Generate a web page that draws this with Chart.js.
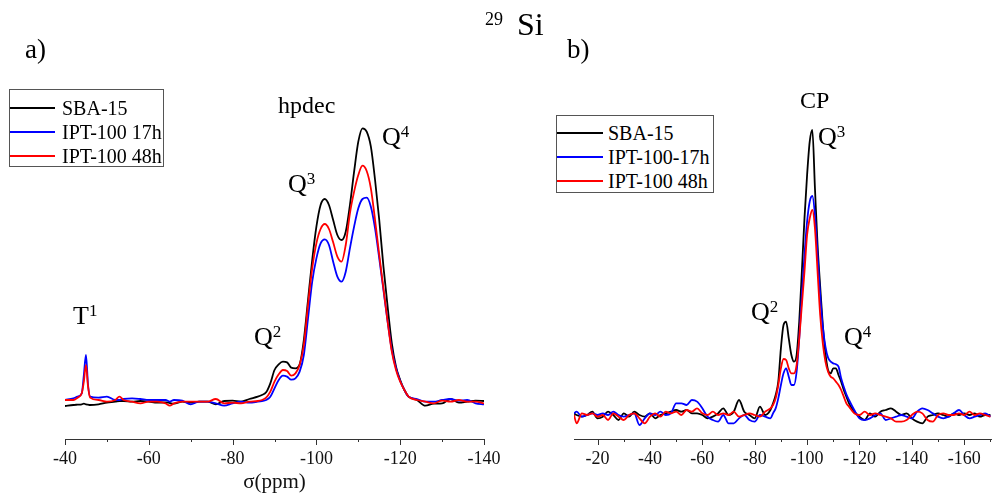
<!DOCTYPE html>
<html>
<head>
<meta charset="utf-8">
<script src="https://cdn.jsdelivr.net/npm/chart.js@4.4.0/dist/chart.umd.min.js"></script>
<style>
  body { margin: 0; background: #fff; }
  #wrap { position: relative; width: 992px; height: 499px; overflow: hidden; font-family: 'Liberation Serif', 'Times New Roman', serif; color: #000; }
  canvas { position: absolute; top: 0; }
  .t { position: absolute; line-height: 1; white-space: nowrap; }
  .q { font-size: 26px; }
  .sup { font-size: 17px; vertical-align: 8px; }
  .box { position: absolute; box-sizing: border-box; border: 1px solid #555; background: #fff; }
  .row { position: absolute; font-size: 20px; line-height: 1; white-space: nowrap; }
  .ln { position: absolute; height: 0; border-top: 2px solid; }
</style>
</head>
<body>
<div id="wrap">
  <canvas id="chartA" width="500" height="499" style="left:0"></canvas>
  <canvas id="chartB" width="492" height="499" style="left:500px"></canvas>

  <div class="t" style="left:485px;top:10px;font-size:18px">29</div>
  <div class="t" style="left:517px;top:8px;font-size:32px">Si</div>
  <div class="t" style="left:25px;top:36px;font-size:27px">a)</div>
  <div class="t" style="left:567px;top:36px;font-size:27px">b)</div>

  <div class="t" style="left:278px;top:93px;font-size:24px">hpdec</div>
  <div class="t q" style="left:73px;top:302px">T<span class="sup">1</span></div>
  <div class="t q" style="left:254px;top:323px">Q<span class="sup">2</span></div>
  <div class="t q" style="left:288px;top:170px">Q<span class="sup">3</span></div>
  <div class="t q" style="left:382px;top:123px">Q<span class="sup">4</span></div>

  <div class="t" style="left:800px;top:88px;font-size:24px">CP</div>
  <div class="t q" style="left:751px;top:298px">Q<span class="sup">2</span></div>
  <div class="t q" style="left:818px;top:123px">Q<span class="sup">3</span></div>
  <div class="t q" style="left:844px;top:323px">Q<span class="sup">4</span></div>
</div>
<script>
// 29Si NMR spectra, intensities in arbitrary units
const xA = [-40,-42,-43,-44,-44.5,-45,-45.5,-46,-48,-50,-52,-53,-54,-56,-58,-60,-62,-64,-65,-66,-68,-70,-72,-74,-76,-78,-80,-82,-84,-86,-87,-88,-89,-90,-91,-92,-93,-94,-95,-96,-97,-98,-99,-100,-101,-102,-103,-104,-105,-106,-107,-108,-109,-110,-111,-112,-113,-114,-115,-116,-117,-118,-119,-120,-121,-122,-124,-126,-128,-130,-132,-134,-136,-138,-140];
const sbaA = [-13,-10,-9,-8,-6,-8,-9,-10,-8,-3, 0,2,2,0,2,0,-3,-2,-4,-6, 0,-3,0,0,-8,2,3,0,8,15, 20,28,55,95,112,120,118,102,100,112, 185,305,425,525,590,608,590,545,500,485, 510,590,690,780,820,810,765,665,545,405, 285,175,105,65,35,15,5,-12,-6,-5, 8,-3,0,3,2];
const ipt17A = [5,10,15,25,80,140,50,15,12,15, 5,5,8,10,8,5,5,5,0,5, 3,-8,0,0,-5,-12,-5,0,-3,0, 2,5,15,40,65,78,75,66,70,90, 140,250,360,430,475,487,470,420,375,360, 390,460,525,580,608,612,585,520,430,335, 240,155,100,62,35,15,8,0,0,5, 8,3,5,-5,-8];
const ipt48A = [5,5,12,25,60,110,45,12,5,0, 5,15,5,0,-5,0,0,-5,-12,-5, 0,0,0,0,8,-5,-3,-5,0,2, 5,12,30,60,82,95,92,78,85,110, 170,290,400,475,518,533,518,478,435,420, 470,565,630,680,708,692,640,545,440,340, 240,150,95,60,35,15,5,0,-5,3, 0,5,0,0,-5];

const xB = [-11,-12,-14,-16,-18,-20,-22,-24,-26,-28,-30,-32,-34,-36,-38,-40,-42,-44,-46,-48,-50,-52,-54,-56,-58,-60,-62,-64,-66,-68,-70,-72,-74,-76,-78,-80,-82,-84,-86,-87,-88,-89,-90,-91,-92,-93,-94,-95,-96,-97,-98,-99,-100,-101,-102,-103,-104,-105,-106,-107,-108,-109,-110,-111,-112,-113,-114,-115,-116,-118,-120,-122,-124,-126,-128,-130,-132,-134,-136,-138,-140,-142,-144,-146,-148,-150,-152,-154,-156,-158,-160,-162,-164,-166,-168,-170];
const sbaB = [5,0,-5,0,10,-10,-5,10,0,-15, 5,-5,10,0,-5,5,-10,0,5,10, 15,10,15,5,5,0,-10,-5,5,20, 0,10,45,10,0,-10,25,0,
  15,35,60,100,200,270,280,230,180,160, 180,280,430,590,720,820,855,680,510,385, 270,185,135,125,140,140,120,100,75,55, 35,
  10,-5,-15,5,-5,10,15,20,10,0, 5,-10,-20,-25,-5,0,5,0,-5,5, 0,5,0,5,-5,0,0];
const ipt17B = [5,10,-5,0,5,0,5,0,10,0, -5,0,5,-30,-10,5,0,10,0,5, 35,35,30,45,40,20,-5,-15,-20,0, -25,-25,-10,0,-15,-20,0,-5,
  -10,5,20,50,90,125,140,115,90,90, 130,230,360,480,580,640,657,600,480,360, 265,205,172,160,155,152,145,110,85,62, 45,
  15,-10,-15,-10,0,5,-15,-10,-5,0, -5,-10,10,20,15,5,-5,-10,-5,5, 15,0,-10,-5,0,5,-5];
const ipt48B = [0,-25,5,0,5,-5,0,-15,5,-5, -15,0,5,-10,-25,-5,5,-5,10,5, 10,0,15,10,20,5,0,10,0,5, 0,10,-5,0,5,0,-5,10,
  20,30,50,90,140,168,165,140,125,125, 150,230,330,430,540,590,615,560,430,300, 215,160,130,115,110,100,90,75,55,35, 25,
  5,0,10,0,5,0,-5,-10,-20,-20, -15,0,10,5,-15,-20,0,5,0,0, 5,0,10,0,5,0,-5];

const ticksA = [-40, -60, -80, -100, -120, -140];
const ticksB = [-20, -40, -60, -80, -100, -120, -140, -160];
const namesA = ['SBA-15', 'IPT-100 17h', 'IPT-100 48h'];
const namesB = ['SBA-15', 'IPT-100-17h', 'IPT-100 48h'];
const colors = ['#000000', '#0000ff', '#ff0000'];

Chart.defaults.font.family = "'Liberation Serif', 'Times New Roman', serif";
Chart.defaults.color = '#111';

// small ticks every 10, long ones every 20, below the axis line
const axisTicks = {
  id: 'axisTicks',
  afterDraw(chart) {
    const sc = chart.scales.x, ctx = chart.ctx, y0 = chart.chartArea.bottom;
    ctx.save();
    ctx.strokeStyle = '#333';
    ctx.lineWidth = 1;
    for (let v = Math.ceil(sc.min / 10) * 10; v <= sc.max; v += 10) {
      const px = Math.round(sc.getPixelForValue(v)) + 0.5;
      ctx.beginPath();
      ctx.moveTo(px, y0);
      ctx.lineTo(px, y0 + (v % 20 === 0 ? 6 : 3));
      ctx.stroke();
    }
    ctx.restore();
  }
};

function pts(xs, ys) {
  return xs.map((x, i) => ({ x: x, y: ys[i] }));
}

function makeChart(id, xs, series, names, xMin, xMax, yMin, yMax, tickVals, pad, title) {
  new Chart(document.getElementById(id), {
    type: 'line',
    data: {
      datasets: series.map((s, i) => ({
        label: names[i],
        data: pts(xs, s),
        borderColor: colors[i],
        borderWidth: 1.8,
        pointRadius: 0,
        cubicInterpolationMode: 'monotone',
        order: 2 - i
      }))
    },
    options: {
      responsive: false,
      animation: false,
      devicePixelRatio: 1,
      layout: { padding: pad },
      plugins: { legend: { display: false }, tooltip: { enabled: false } },
      scales: {
        x: {
          type: 'linear',
          reverse: true,
          min: xMin,
          max: xMax,
          afterBuildTicks: s => { s.ticks = tickVals.map(v => ({ value: v })); },
          afterFit: s => { s.height = 60; s.paddingLeft = 0; s.paddingRight = 0; },
          grid: { display: true, drawOnChartArea: false, drawTicks: false },
          border: { display: true, color: '#333', width: 1 },
          ticks: { padding: 9, autoSkip: false, maxRotation: 0, color: '#111',
                   font: { size: 18 }, callback: v => String(v) },
          title: { display: !!title, text: title || '', color: '#111',
                   font: { size: 21 }, padding: { top: 0, bottom: 4 } }
        },
        y: { display: false, min: yMin, max: yMax }
      }
    },
    plugins: [axisTicks]
  });
}

makeChart('chartA', xA, [sbaA, ipt17A, ipt48A], namesA, -140, -40, -112, 905, ticksA,
  { left: 65, right: 16, top: 100, bottom: 0 }, 'σ(ppm)');
makeChart('chartB', xB, [sbaB, ipt17B, ipt48B], namesB, -170.6, -11, -72, 945, ticksB,
  { left: 74, right: 0, top: 100, bottom: 0 }, null);

// legends drawn as boxed html
function legend(names, box, lineX, lineW, textX, rowY) {
  const wrap = document.getElementById('wrap');
  const b = document.createElement('div');
  b.className = 'box';
  Object.assign(b.style, { left: box[0] + 'px', top: box[1] + 'px', width: box[2] + 'px', height: box[3] + 'px' });
  wrap.appendChild(b);
  names.forEach((n, i) => {
    const l = document.createElement('div');
    l.className = 'ln';
    Object.assign(l.style, { left: lineX + 'px', width: lineW + 'px', top: (rowY[i] - 1) + 'px', borderColor: colors[i] });
    wrap.appendChild(l);
    const t = document.createElement('div');
    t.className = 'row';
    t.textContent = n;
    Object.assign(t.style, { left: textX + 'px', top: (rowY[i] - 10) + 'px' });
    wrap.appendChild(t);
  });
}
legend(namesA, [9, 89, 155, 78], 10, 45, 62, [108, 132, 156]);
legend(namesB, [556, 115, 158, 78], 557, 46, 608, [133, 157, 181]);
</script>
</body>
</html>
